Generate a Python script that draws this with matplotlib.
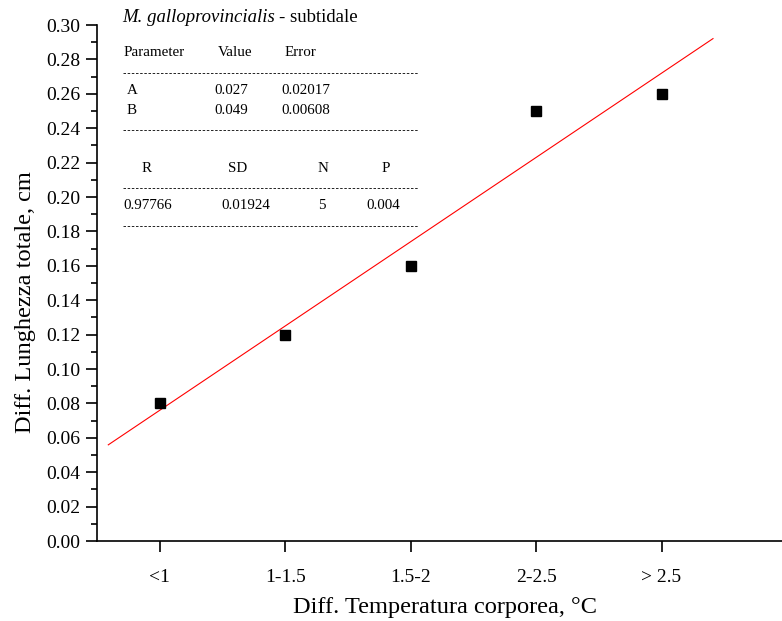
import numpy as np
import matplotlib.pyplot as plt
from matplotlib.lines import Line2D
from matplotlib.ticker import MultipleLocator

plt.rcParams['font.family'] = ['Liberation Serif', 'DejaVu Serif']

# mean difference in total length per body-temperature class
classes = ["<1", "1-1.5", "1.5-2", "2-2.5", "> 2.5"]
diff_len = [0.08, 0.12, 0.16, 0.25, 0.26]

# linear fit y = A + B*x
A, B = 0.027, 0.049
fit_x0, fit_x1 = 0.59, 5.41

W, H = 782, 621
fig = plt.figure(figsize=(W / 100, H / 100), dpi=100)
ax = fig.add_axes([97 / W, 1 - 541 / H, 685 / W, 516 / H])

x = np.arange(1, len(classes) + 1)
xf = np.linspace(fit_x0, fit_x1, 50)
ax.plot(xf, A + B * xf, color='red', lw=0.8)
ax.plot(x, diff_len, 's', color='black', ms=7.5, clip_on=False)

ax.set_xlim(0.5, 5.96)
ax.set_ylim(0, 0.30)
ax.set_xticks(x)
ax.set_xticklabels(classes)
ax.yaxis.set_major_locator(MultipleLocator(0.02))
ax.yaxis.set_minor_locator(MultipleLocator(0.01))
ax.yaxis.set_major_formatter(plt.FormatStrFormatter('%.2f'))

for s in ['top', 'right']:
    ax.spines[s].set_visible(False)
for s in ['left', 'bottom']:
    ax.spines[s].set_linewidth(1.2)
ax.tick_params(which='major', direction='out', length=8, width=1.2, labelsize=14, pad=4)
ax.tick_params(axis='x', pad=12)
ax.tick_params(which='minor', direction='out', length=4.5, width=1.2)

ax.set_xlabel("Diff. Temperatura corporea, °C", fontsize=17.6, labelpad=8)
ax.xaxis.label.set_x(0.508)
ax.set_ylabel("Diff. Lunghezza totale, cm", fontsize=17.6)
ax.yaxis.set_label_coords(-0.089, 0.463)


def px(xp, yp):
    return xp / W, 1 - yp / H


# header: species name in italics, then the site
sp = fig.text(*px(122, 17), "M. galloprovincialis", fontsize=13.5, style='italic', va='center')
fig.canvas.draw()
bb = sp.get_window_extent()
fig.text(bb.x1 / W + 4 / W, px(0, 17)[1], "- subtidale", fontsize=13.5, va='center')

# fit statistics table
fs = 10.8
cells = [
    (124, 53, "Parameter"), (218, 53, "Value"), (285, 53, "Error"),
    (127, 91, "A"), (214, 91, "0.027"), (281, 91, "0.02017"),
    (127, 110, "B"), (214, 110, "0.049"), (281, 110, "0.00608"),
    (142, 168, "R"), (228, 168, "SD"), (318, 168, "N"), (382, 168, "P"),
    (123, 206, "0.97766"), (221, 206, "0.01924"), (318, 206, "5"), (366, 206, "0.004"),
]
for xp, yp, s in cells:
    fig.text(*px(xp, yp), s, fontsize=fs, va='center')

for yp in [73, 130, 188, 226]:
    x0, y0 = px(123, yp)
    x1, _ = px(418, yp)
    fig.add_artist(Line2D([x0, x1], [y0, y0], color='black', lw=0.6,
                          linestyle=(0, (3, 2))))

fig.savefig("out.png", dpi=100)
